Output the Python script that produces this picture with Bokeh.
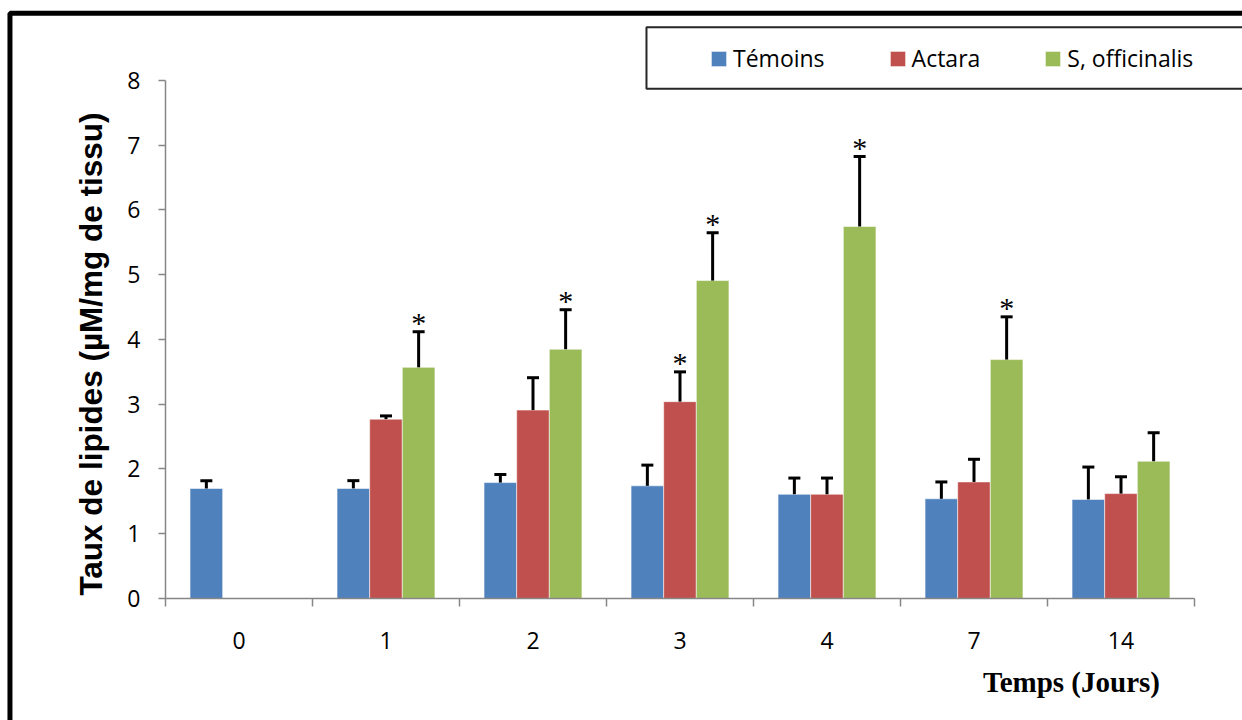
import math
from bokeh.plotting import figure
from bokeh.models import (ColumnDataSource, FixedTicker, Whisker, TeeHead, Legend,
                          LegendItem, BoxAnnotation, Label, Range1d)
from bokeh.core.properties import value
from bokeh.embed import file_html
from bokeh.resources import INLINE

# ---------------- data ----------------
days = ["0", "1", "2", "3", "4", "7", "14"]
series_names = ["Témoins", "Actara", "S, officinalis"]
series_colors = ["#4F81BD", "#C0504D", "#9BBB59"]

temoins = [1.70, 1.70, 1.79, 1.74, 1.61, 1.54, 1.53]
temoins_err = [0.12, 0.12, 0.125, 0.32, 0.25, 0.26, 0.50]
actara = [None, 2.77, 2.91, 3.04, 1.61, 1.80, 1.62]
actara_err = [None, 0.05, 0.50, 0.46, 0.25, 0.35, 0.26]
officinalis = [None, 3.57, 3.85, 4.91, 5.745, 3.69, 2.12]
officinalis_err = [None, 0.55, 0.61, 0.74, 1.08, 0.66, 0.44]
temoins_sig = [False, False, False, False, False, False, False]
actara_sig = [False, False, False, True, False, False, False]
officinalis_sig = [False, True, True, True, True, True, False]

y_ticks = [0, 1, 2, 3, 4, 5, 6, 7, 8]
y_title = "Taux de lipides (µM/mg de tissu)"
x_title = "Temps (Jours)"

# ---------------- figure ----------------
# The frame covers the whole canvas; axes are drawn at fixed data locations.
W, H = 1242, 720
p = figure(width=W, height=H, output_backend="svg", toolbar_location=None,
           x_range=Range1d(-1.1224, 7.3265), y_range=Range1d(-1.8842, 9.2355),
           min_border=0)
p.outline_line_color = None
p.grid.visible = False
p.background_fill_color = "white"
p.border_fill_color = "white"

bar_w = 0.222
offsets = [-bar_w, 0.0, bar_w]
all_vals = [temoins, actara, officinalis]
all_errs = [temoins_err, actara_err, officinalis_err]
all_sig = [temoins_sig, actara_sig, officinalis_sig]

legend_items = []
for k in range(3):
    xs, tops, ups = [], [], []
    sx, sy = [], []
    for i, v in enumerate(all_vals[k]):
        if v is None:
            continue
        x = i + 0.5 + offsets[k]
        xs.append(x)
        tops.append(v)
        ups.append(v + all_errs[k][i])
        if all_sig[k][i]:
            sx.append(x)
            sy.append(v + all_errs[k][i])
    src = ColumnDataSource(dict(x=xs, top=tops, upper=ups))
    r = p.vbar(x="x", top="top", bottom=0, width=bar_w, source=src,
               fill_color=series_colors[k], line_color="white", line_alpha=0.55,
               line_width=1)
    legend_items.append(LegendItem(label=series_names[k], renderers=[r]))
    wh = Whisker(source=src, base="x", lower="top", upper="upper",
                 line_color="black", line_width=3,
                 upper_head=TeeHead(size=12, line_width=3, line_color="black"),
                 lower_head=None, level="annotation")
    p.add_layout(wh)
    if sx:
        ssrc = ColumnDataSource(dict(x=sx, y=sy, t=["*"] * len(sx)))
        p.text(x="x", y="y", text="t", source=ssrc, text_align="center",
               text_baseline="alphabetic", y_offset=-9,
               text_font=value("Liberation Serif"), text_font_size="30px",
               text_color="black")

# ---------------- axes ----------------
axis_gray = "#868686"
yax = p.yaxis[0]
yax.fixed_location = 0
yax.bounds = (0, 8)
yax.ticker = FixedTicker(ticks=y_ticks)
yax.axis_line_color = axis_gray
yax.axis_line_width = 1.5
yax.major_tick_line_color = axis_gray
yax.major_tick_line_width = 1.5
yax.major_tick_out = 7
yax.major_tick_in = 0
yax.minor_tick_out = 0
yax.minor_tick_in = 0
yax.major_label_text_font = "Open Sans"
yax.major_label_text_font_size = "23px"
yax.major_label_text_color = "black"
yax.major_label_standoff = 18

xax = p.xaxis[0]
xax.fixed_location = 0
xax.bounds = (0, len(days))
centers = [i + 0.5 for i in range(len(days))]
xax.ticker = FixedTicker(ticks=centers, minor_ticks=list(range(len(days) + 1)))
xax.major_label_overrides = {c: d for c, d in zip(centers, days)}
xax.axis_line_color = axis_gray
xax.axis_line_width = 1.5
xax.major_tick_out = 0
xax.major_tick_in = 0
xax.major_tick_line_color = None
xax.minor_tick_out = 8
xax.minor_tick_in = 0
xax.minor_tick_line_color = axis_gray
xax.minor_tick_line_width = 1.5
xax.major_label_text_font = "Open Sans"
xax.major_label_text_font_size = "23px"
xax.major_label_text_color = "black"
xax.major_label_standoff = 26

# ---------------- titles ----------------
p.add_layout(Label(x=-0.505, y=3.776, text=y_title, angle=math.pi / 2,
                   text_align="center", text_baseline="middle",
                   text_font="Liberation Sans", text_font_style="bold",
                   text_font_size="31.5px", text_color="black"))
p.add_layout(Label(x=6.163, y=-1.297, text=x_title,
                   text_align="center", text_baseline="middle",
                   text_font="Liberation Serif", text_font_style="bold",
                   text_font_size="29px", text_color="black"))

# ---------------- outer frame and legend box ----------------
p.add_layout(BoxAnnotation(left=-1.058, right=30, top=9.04, bottom=-30,
                           fill_alpha=0, line_color="black", line_alpha=1,
                           line_width=5, level="overlay"))
p.add_layout(BoxAnnotation(left=3.272, right=30, top=8.823, bottom=7.872,
                           fill_color="white", fill_alpha=1,
                           line_color="#262626", line_alpha=1, line_width=2,
                           level="overlay"))

legend = Legend(items=legend_items, orientation="horizontal",
                location=(699, 636), glyph_width=19, glyph_height=19,
                label_standoff=5, spacing=63, padding=10,
                border_line_alpha=0, background_fill_alpha=0,
                label_text_font="Open Sans", label_text_font_size="23px",
                label_text_color="black")
p.add_layout(legend)

open("out.html", "w").write(file_html(p, INLINE))
